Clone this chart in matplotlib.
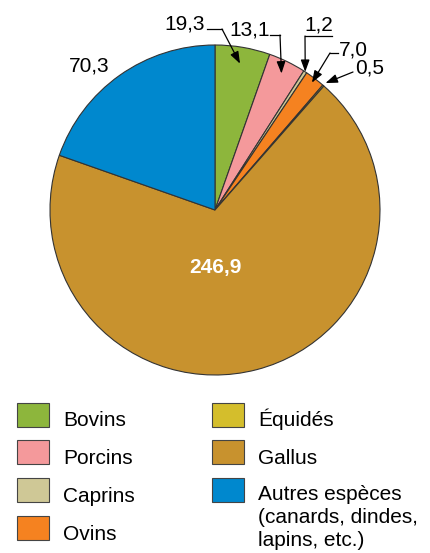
import numpy as np
import matplotlib
matplotlib.use("Agg")
import matplotlib.pyplot as plt
from matplotlib.patches import Rectangle

plt.rcParams['font.family'] = ['Liberation Sans', 'DejaVu Sans']

# data
categories = ["Bovins", "Porcins", "Caprins", "Ovins", "Équidés", "Gallus",
              "Autres espèces\n(canards, dindes,\nlapins, etc.)"]
values = [19.3, 13.1, 1.2, 7.0, 0.5, 246.9, 70.3]
value_labels = ["19,3", "13,1", "1,2", "7,0", "0,5", "246,9", "70,3"]
colors = ["#8DB63C", "#F4999B", "#CFC896", "#F58220", "#D4BE2C", "#C8922E", "#0088CE"]

W, H = 430, 553
fig = plt.figure(figsize=(W / 100, H / 100), dpi=100)
ax = fig.add_axes([0, 0, 1, 1])

def Y(y):
    # pixel row (from top) -> axis coordinate
    return H - y

cx, cy, R = 215, 210, 165
wedges, _ = ax.pie(values, colors=colors, startangle=90, counterclock=False,
                   center=(cx, Y(cy)), radius=R,
                   wedgeprops=dict(edgecolor="#333333", linewidth=0.8))
ax.set_xlim(0, W)
ax.set_ylim(0, H)
ax.set_aspect("equal")
ax.axis("off")

FS = 15

# small slices: label position, leader polyline (pixel coords), tip radius factor
small = [
    (0, (185, 24.5), [(207, 29), (222, 29)], 0.90),
    (1, (250, 30), [(270, 35), (280, 35)], 0.92),
    (2, (318.5, 25), [(332, 36), (305, 36)], 1.00),
    (3, (353.5, 49.5), [(338, 53), (330, 53)], 0.97),
    (4, (370, 67.5), [(353, 72)], 1.02),
]
for i, txt_pos, path, rf in small:
    w = wedges[i]
    mid = np.deg2rad((w.theta1 + w.theta2) / 2)
    tip = (cx + rf * R * np.cos(mid), Y(cy) + rf * R * np.sin(mid))
    ax.text(txt_pos[0], Y(txt_pos[1]), value_labels[i], fontsize=FS,
            ha="center", va="center")
    if len(path) > 1:
        ax.plot([p[0] for p in path], [Y(p[1]) for p in path], color="black", lw=0.9)
    bend = path[-1]
    ax.annotate("", xy=tip, xytext=(bend[0], Y(bend[1])),
                arrowprops=dict(arrowstyle="-|>,head_length=0.6,head_width=0.22",
                                color="black", lw=0.9,
                                mutation_scale=12, shrinkA=0, shrinkB=0))

ax.text(215, Y(267), value_labels[5], fontsize=FS, fontweight="bold",
        color="white", ha="center", va="center")
ax.text(89, Y(66), value_labels[6], fontsize=FS, ha="center", va="center")

# legend
left_rows = [403, 440, 478, 516]
right_rows = [403, 440, 478]
for k in range(7):
    if k < 4:
        x0, ytop = 17, left_rows[k]
    else:
        x0, ytop = 212, right_rows[k - 4]
    ax.add_patch(Rectangle((x0, Y(ytop + 24)), 32, 24, facecolor=colors[k],
                           edgecolor="#444444", lw=0.8))
    if k == 6:
        ax.text(x0 + 46, Y(ytop + 7), categories[k], fontsize=FS, ha="left",
                va="top", linespacing=1.28)
    else:
        ax.text(x0 + 46, Y(ytop + 23.5), categories[k], fontsize=FS, ha="left",
                va="baseline")

fig.savefig("out.png", dpi=100)
